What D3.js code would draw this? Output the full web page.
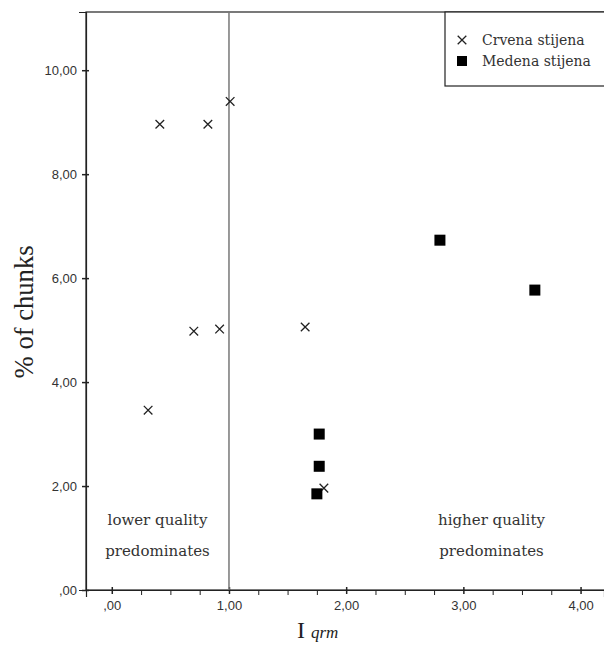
<!DOCTYPE html>
<html>
<head>
<meta charset="utf-8">
<script src="https://cdn.jsdelivr.net/npm/d3@7"></script>
<style>
  body { margin: 0; background: #fff; }
  svg { display: block; }
  .serif { font-family: "DejaVu Serif", "Liberation Serif", serif; fill: #333; }
  .times { font-family: "Liberation Serif", serif; fill: #222; }
</style>
</head>
<body>
<div id="chart"></div>
<script>
// data
const crvenaX = [0.41, 0.82, 1.01, 0.70, 0.92, 1.65, 0.31, 1.81];
const crvenaY = [8.96, 8.96, 9.40, 4.98, 5.02, 5.06, 3.46, 1.96];
const medenaX = [2.80, 3.61, 1.77, 1.77, 1.75];
const medenaY = [6.73, 5.77, 3.00, 2.38, 1.85];
const xTicks = [0, 1, 2, 3, 4];
const yTicks = [0, 2, 4, 6, 8, 10];
const seriesNames = ['Crvena stijena', 'Medena stijena'];

const width = 604;
const height = 645;
const margin = {top: 12, right: 0, bottom: 55, left: 86};

const fmt = d => {
    const s = d3.format('.2f')(d).replace('.', ',');
    return s.startsWith('0') ? s.slice(1) : s;
};

const svg = d3.select('#chart').append('svg')
    .attr('width', width)
    .attr('height', height);

const xScale = d3.scaleLinear()
    .domain([-0.22, 4.2])
    .range([margin.left, width - margin.right]);

const yScale = d3.scaleLinear()
    .domain([0, 11.12])
    .range([height - margin.bottom, margin.top]);

// frame
svg.append('rect')
    .attr('x', xScale.range()[0])
    .attr('y', yScale.range()[1])
    .attr('width', xScale.range()[1] - xScale.range()[0] + 5)
    .attr('height', yScale.range()[0] - yScale.range()[1])
    .attr('fill', 'none')
    .attr('stroke', '#222')
    .attr('stroke-width', 1.2);

// minor ticks
const xMinor = d3.range(0, 4.01, 0.25).filter(v => !xTicks.includes(v));
const yMinor = d3.range(0.5, 11, 0.5).filter(v => !yTicks.includes(v));

svg.append('g')
    .attr('transform', `translate(0,${yScale(0)})`)
    .call(d3.axisBottom(xScale).tickValues(xMinor).tickSize(5).tickFormat(''))
    .call(g => g.select('.domain').remove())
    .call(g => g.selectAll('line').attr('stroke', '#222').attr('y1', 0));

svg.append('g')
    .attr('transform', `translate(${xScale.range()[0]},0)`)
    .call(d3.axisLeft(yScale).tickValues(yMinor).tickSize(5).tickFormat(''))
    .call(g => g.select('.domain').remove())
    .call(g => g.selectAll('line').attr('stroke', '#222').attr('x2', 0));

// major axes
const styleLabels = g => g.selectAll('.tick text')
    .attr('font-family', '"Liberation Sans", Arial, sans-serif')
    .attr('font-size', 13)
    .attr('fill', '#333');

svg.append('g')
    .attr('transform', `translate(0,${yScale(0)})`)
    .call(d3.axisBottom(xScale).tickValues(xTicks).tickSize(7).tickPadding(4).tickFormat(fmt))
    .call(g => g.select('.domain').attr('stroke', '#222').attr('stroke-width', 1.2))
    .call(g => g.selectAll('line').attr('stroke', '#222').attr('stroke-width', 1.5).attr('y1', -3).attr('y2', 4))
    .call(styleLabels);

svg.append('g')
    .attr('transform', `translate(${xScale.range()[0]},0)`)
    .call(d3.axisLeft(yScale).tickValues(yTicks).tickSize(7).tickPadding(2).tickFormat(fmt))
    .call(g => g.select('.domain').attr('stroke', '#222').attr('stroke-width', 1.2))
    .call(g => g.selectAll('line').attr('stroke', '#222').attr('stroke-width', 1.5).attr('x1', 3).attr('x2', -4))
    .call(styleLabels);

// reference line at 1,00
svg.append('line')
    .attr('x1', xScale(1)).attr('x2', xScale(1))
    .attr('y1', yScale.range()[1]).attr('y2', yScale(0))
    .attr('stroke', '#777')
    .attr('stroke-width', 1.5);

// region notes
const notes = [
    {x: 0.39, lines: ['lower quality', 'predominates']},
    {x: 3.24, lines: ['higher quality', 'predominates']}
];
notes.forEach(n => {
    n.lines.forEach((t, i) => {
        svg.append('text')
            .attr('class', 'serif')
            .attr('x', xScale(n.x))
            .attr('y', yScale(1.26) + i * 31)
            .attr('text-anchor', 'middle')
            .attr('font-size', 15)
            .text(t);
    });
});

// crosses
const cross = d3.symbol().type(d3.symbolX).size(50);
svg.append('g').selectAll('path')
    .data(crvenaX.map((x, i) => ({x, y: crvenaY[i]})))
    .join('path')
    .attr('d', cross)
    .attr('transform', d => `translate(${xScale(d.x)},${yScale(d.y)})`)
    .attr('fill', 'none')
    .attr('stroke', '#222')
    .attr('stroke-width', 1.3);

// squares
const sq = 11;
svg.append('g').selectAll('rect')
    .data(medenaX.map((x, i) => ({x, y: medenaY[i]})))
    .join('rect')
    .attr('x', d => xScale(d.x) - sq / 2)
    .attr('y', d => yScale(d.y) - sq / 2)
    .attr('width', sq)
    .attr('height', sq)
    .attr('fill', '#000');

// axis titles
svg.append('text')
    .attr('class', 'times')
    .attr('transform', `translate(33,${yScale(5.35)}) rotate(-90)`)
    .attr('text-anchor', 'middle')
    .attr('font-size', 27)
    .attr('textLength', 133)
    .attr('lengthAdjust', 'spacingAndGlyphs')
    .attr('fill', '#1a1a1a')
    .text('% of chunks');

const xt = svg.append('text')
    .attr('class', 'times')
    .attr('x', 297)
    .attr('y', 638);
xt.append('tspan').attr('font-size', 24).text('I ');
xt.append('tspan').attr('font-size', 17).attr('font-style', 'italic').text('qrm');

// legend
const legend = svg.append('g').attr('transform', 'translate(445,12)');
legend.append('rect')
    .attr('width', 170).attr('height', 74)
    .attr('fill', '#fff')
    .attr('stroke', '#222')
    .attr('stroke-width', 1.2);
legend.append('path')
    .attr('d', cross)
    .attr('transform', 'translate(17,28)')
    .attr('fill', 'none').attr('stroke', '#222').attr('stroke-width', 1.3);
legend.append('rect')
    .attr('x', 12).attr('y', 44).attr('width', 10).attr('height', 10)
    .attr('fill', '#000');
seriesNames.forEach((name, i) => {
    legend.append('text')
        .attr('class', 'serif')
        .attr('x', 37)
        .attr('y', 33 + i * 21)
        .attr('font-size', 14)
        .attr('fill', '#111')
        .text(name);
});
</script>
</body>
</html>
